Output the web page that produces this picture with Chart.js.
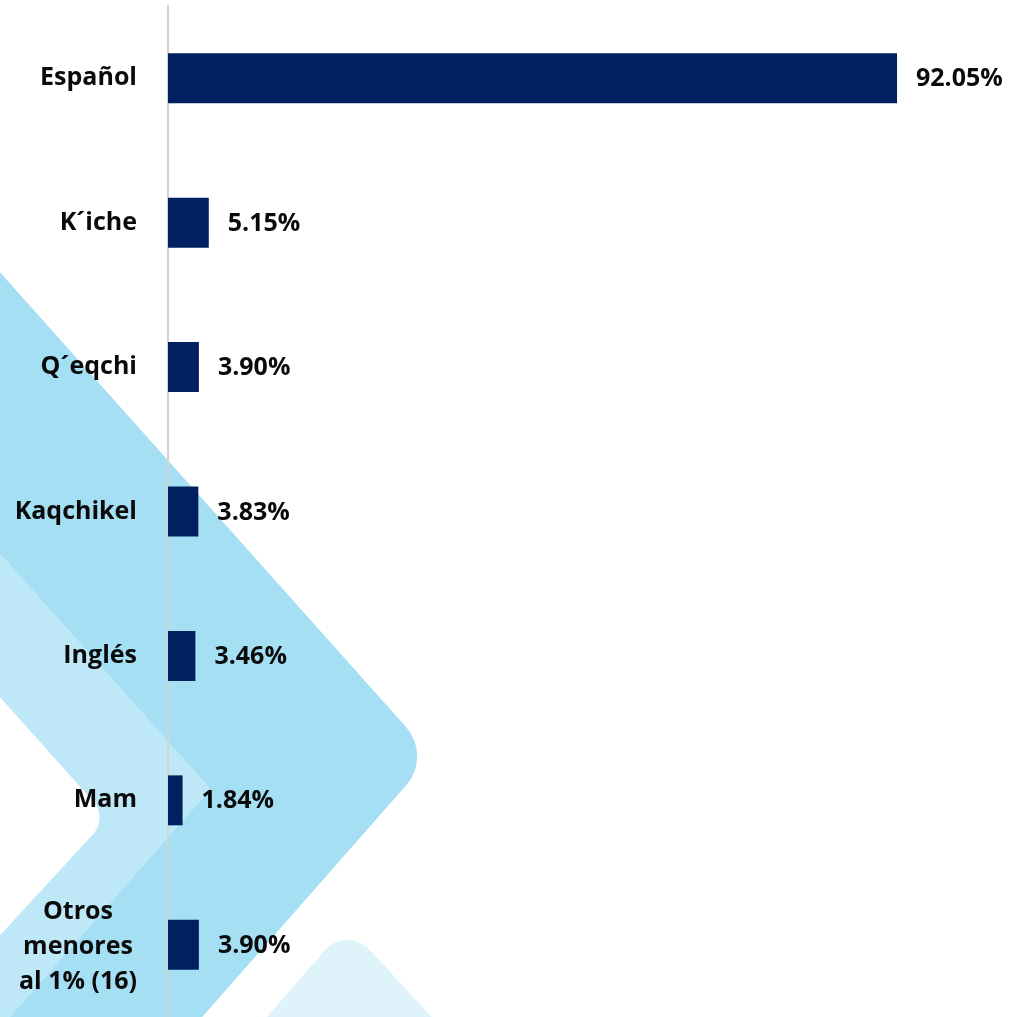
<!DOCTYPE html>
<html>
<head>
<meta charset="utf-8">
<script src="https://cdn.jsdelivr.net/npm/chart.js@4.4.1/dist/chart.umd.min.js"></script>
<style>
  html, body { margin: 0; padding: 0; background: #ffffff; }
  #wrap { width: 1014px; height: 1017px; position: relative; }
</style>
</head>
<body>
<div id="wrap"><canvas id="idiomas"></canvas></div>
<script>
var idiomas = ['Español', 'K´iche', 'Q´eqchi', 'Kaqchikel', 'Inglés', 'Mam', ['Otros', 'menores', 'al 1% (16)']];
var porcentajes = [92.05, 5.15, 3.90, 3.83, 3.46, 1.84, 3.90];

var FONT = 'bold 25px "Open Sans", Lato, sans-serif';
var TEXT_COLOR = '#0a0a0a';

// chevron with a rounded tip: a -> tip -> b, then close along the left/bottom
function chevron(ctx, pts, tip, r, color) {
  ctx.beginPath();
  ctx.moveTo(pts[0][0], pts[0][1]);
  ctx.arcTo(tip[0], tip[1], pts[1][0], pts[1][1], r);
  ctx.lineTo(pts[1][0], pts[1][1]);
  for (var i = 2; i < pts.length; i++) {
    ctx.lineTo(pts[i][0], pts[i][1]);
  }
  ctx.closePath();
  ctx.fillStyle = color;
  ctx.fill();
}

// light blue decoration behind the chart
var fondo = {
  id: 'fondo',
  beforeDraw: function(chart) {
    var ctx = chart.ctx;
    ctx.save();
    ctx.fillStyle = '#ffffff';
    ctx.fillRect(0, 0, chart.width, chart.height);
    chevron(ctx, [[-10, 261], [182, 1040], [-10, 1040]], [432, 756], 44, '#a4dff3');
    chevron(ctx, [[-10, 542], [-10, 1040]], [211, 789], 6, '#bee8f8');
    chevron(ctx, [[-10, 686], [-10, 946]], [108, 818], 24, '#ffffff');
    chevron(ctx, [[247, 1040], [453, 1040]], [347, 925], 30, '#def4fa');
    ctx.restore();
  }
};

// category names to the left of the axis, multi-line names are centred
var etiquetas = {
  id: 'etiquetas',
  afterDraw: function(chart) {
    var ctx = chart.ctx;
    var yScale = chart.scales.y;
    var right = 137;
    var lineH = 35;
    ctx.save();
    ctx.font = FONT;
    ctx.fillStyle = TEXT_COLOR;
    ctx.textBaseline = 'middle';
    idiomas.forEach(function(lbl, i) {
      var y = yScale.getPixelForValue(i);
      if (Array.isArray(lbl)) {
        var widest = 0;
        lbl.forEach(function(l) { widest = Math.max(widest, ctx.measureText(l).width); });
        ctx.textAlign = 'center';
        var cx = right - widest / 2;
        var y0 = y - (lbl.length - 1) * lineH / 2 + 2;
        lbl.forEach(function(l, j) { ctx.fillText(l, cx, y0 + j * lineH); });
      } else {
        ctx.textAlign = 'right';
        ctx.fillText(lbl, right, y);
      }
    });
    ctx.restore();
  }
};

// percentage next to each bar
var valores = {
  id: 'valores',
  afterDatasetsDraw: function(chart) {
    var ctx = chart.ctx;
    var meta = chart.getDatasetMeta(0);
    ctx.save();
    ctx.font = FONT;
    ctx.fillStyle = TEXT_COLOR;
    ctx.textAlign = 'left';
    ctx.textBaseline = 'middle';
    meta.data.forEach(function(bar, i) {
      ctx.fillText(porcentajes[i].toFixed(2) + '%', bar.x + 19, bar.y + 1);
    });
    ctx.restore();
  }
};

var ctx = document.getElementById('idiomas');
var grafico = new Chart(ctx, {
  type: 'bar',
  data: {
    labels: idiomas,
    datasets: [{
      data: porcentajes,
      backgroundColor: '#002060',
      borderWidth: 0,
      barPercentage: 0.346,
      categoryPercentage: 1
    }]
  },
  options: {
    indexAxis: 'y',
    responsive: true,
    maintainAspectRatio: false,
    animation: false,
    layout: { padding: { top: 6, bottom: 0, left: 0, right: 54 } },
    plugins: {
      legend: { display: false },
      tooltip: { enabled: false }
    },
    scales: {
      x: {
        display: false,
        min: 0,
        max: 100
      },
      y: {
        grid: { display: false, drawTicks: false },
        border: { display: true, color: '#d4d4d4', width: 2 },
        ticks: { display: false },
        afterFit: function(scale) { scale.width = 168; }
      }
    }
  },
  plugins: [fondo, etiquetas, valores]
});
</script>
</body>
</html>
